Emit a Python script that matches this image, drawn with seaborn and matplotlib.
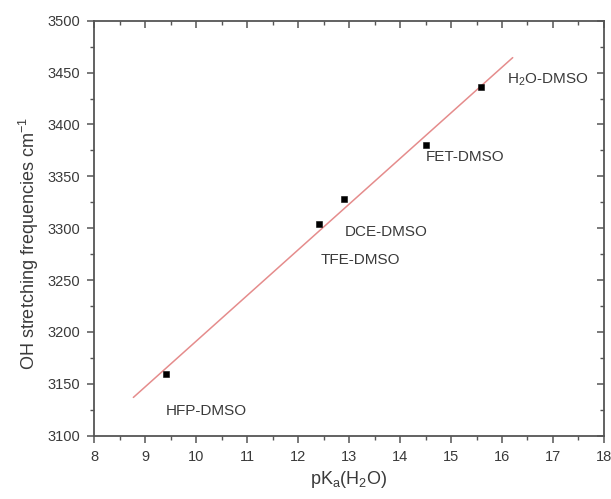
import numpy as np
import pandas as pd
import seaborn as sns
from matplotlib import pyplot as plt
from matplotlib.ticker import MultipleLocator

# values
solvents = ['HFP-DMSO', 'TFE-DMSO', 'DCE-DMSO', 'FET-DMSO', 'H$_2$O-DMSO']
pka = [9.41, 12.41, 12.90, 14.50, 15.59]
oh_freq = [3159, 3304, 3328, 3380, 3436]
# label anchor points (data units)
label_x = [9.41, 12.45, 12.91, 14.51, 16.10]
label_y = [3124, 3269, 3296, 3369, 3443]
# span of the drawn fit line
fit_range = [8.77, 16.21]

sns.set_theme(style='white')
plt.rcParams['font.family'] = ['Liberation Sans', 'DejaVu Sans']
plt.rcParams['mathtext.default'] = 'regular'

text_col = '#3a3a3a'
spine_col = '#555555'

df = pd.DataFrame({'pka': pka, 'freq': oh_freq, 'solvent': solvents})

slope, intercept = np.polyfit(df['pka'], df['freq'], 1)
fit = pd.DataFrame({'x': fit_range})
fit['y'] = slope * fit['x'] + intercept

fig, ax = plt.subplots(figsize=(6.11, 4.99), dpi=100)
fig.subplots_adjust(left=0.154, right=0.9885, top=0.9585, bottom=0.127)

sns.lineplot(data=fit, x='x', y='y', ax=ax, color='#e58c8c', lw=1.1)
sns.scatterplot(data=df, x='pka', y='freq', ax=ax, marker='s', s=22,
                color='black', edgecolor='black', zorder=3)

for name, tx, ty in zip(solvents, label_x, label_y):
    ax.text(tx, ty, name, fontsize=11, color=text_col, va='center', ha='left')

ax.set_xlim(8, 18)
ax.set_ylim(3100, 3500)
ax.xaxis.set_major_locator(MultipleLocator(1))
ax.xaxis.set_minor_locator(MultipleLocator(0.5))
ax.yaxis.set_major_locator(MultipleLocator(50))
ax.yaxis.set_minor_locator(MultipleLocator(25))

ax.set_xlabel('pK$_a$(H$_2$O)', fontsize=13, color=text_col, labelpad=4)
ax.set_ylabel('OH stretching frequencies cm$^{-1}$', fontsize=13, color=text_col)
# the original label sits a little below the axis centre
ax.yaxis.set_label_coords(-0.104, 0.464)

for sp in ax.spines.values():
    sp.set_color(spine_col)
    sp.set_linewidth(1.3)

ax.tick_params(which='major', direction='out', length=5, width=1.1, color=spine_col,
               labelsize=10.5, labelcolor=text_col, pad=5, bottom=True, left=True)
ax.tick_params(which='minor', direction='out', length=3, width=1.0, color=spine_col,
               bottom=True, left=True)

# mirrored inward ticks on top / right, no labels
top = ax.secondary_xaxis('top')
top.xaxis.set_major_locator(MultipleLocator(1))
top.xaxis.set_minor_locator(MultipleLocator(0.5))
top.tick_params(which='major', direction='in', length=5, width=1.1, color=spine_col, labeltop=False)
top.tick_params(which='minor', direction='in', length=3, width=1.0, color=spine_col)
top.spines['top'].set_visible(False)
right = ax.secondary_yaxis('right')
right.yaxis.set_major_locator(MultipleLocator(50))
right.yaxis.set_minor_locator(MultipleLocator(25))
right.tick_params(which='major', direction='in', length=5, width=1.1, color=spine_col, labelright=False)
right.tick_params(which='minor', direction='in', length=3, width=1.0, color=spine_col)
right.spines['right'].set_visible(False)

fig.savefig('out.png', dpi=100)
